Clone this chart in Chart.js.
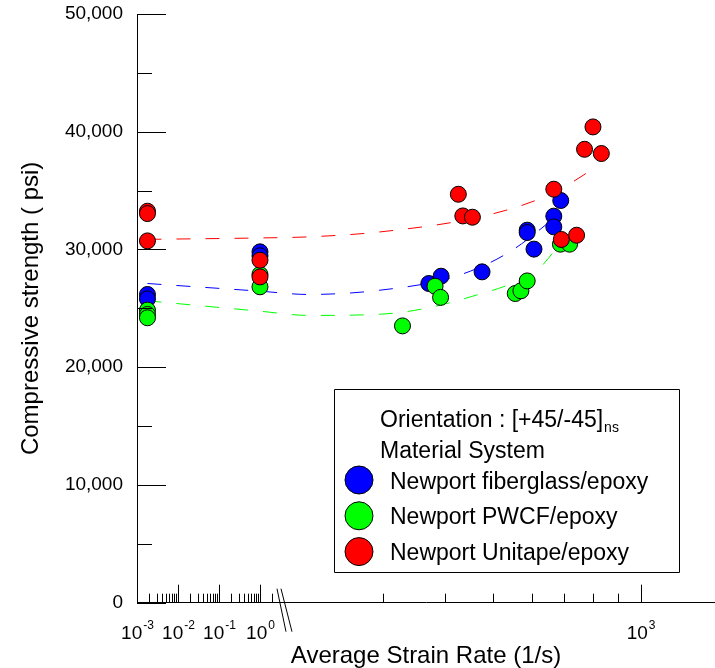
<!DOCTYPE html>
<html>
<head>
<meta charset="utf-8">
<script src="https://cdn.jsdelivr.net/npm/chart.js@4.4.1/dist/chart.umd.min.js"></script>
<style>
  html, body { margin: 0; padding: 0; background: #fff; }
  canvas { display: block; }
</style>
</head>
<body>
<canvas id="strainChart" width="715" height="668"></canvas>
<script>
// ---- data (strain rate in 1/s, strength in psi) ----
const seriesNames = ['Newport fiberglass/epoxy', 'Newport PWCF/epoxy', 'Newport Unitape/epoxy'];

const fiberRate = [0.0018, 0.0018, 1, 1, 371, 393, 476, 588, 588, 607, 666, 666, 688];
const fiberPsi  = [26180, 25800, 29800, 29460, 27110, 27730, 28100, 31640, 31440, 30030, 32830, 31920, 34160];

const pwcfRate = [0.0018, 0.0018, 0.0018, 1, 1, 328, 382, 392, 556, 571, 588, 687, 717];
const pwcfPsi  = [24850, 24480, 24200, 27880, 26830, 23510, 26880, 25930, 26260, 26490, 27330, 30450, 30450];

const uniRate = [0.0018, 0.0018, 0.0018, 1, 1, 426, 435, 455, 666, 690, 741, 769, 800, 832];
const uniPsi  = [33250, 33050, 30730, 29090, 27670, 34690, 32850, 32740, 35120, 30850, 31210, 38510, 40410, 38150];

// dashed trend curves
const fiberFitRate = [0.0018, 1, 211, 295, 417, 535, 646, 668];
const fiberFitPsi  = [27110, 26460, 26180, 26540, 27670, 29660, 32200, 32740];
const pwcfFitRate  = [0.0018, 1, 211, 295, 451, 626, 666, 703];
const pwcfFitPsi   = [25640, 24760, 24400, 24500, 25980, 28520, 29800, 30620];
const uniFitRate   = [0.0018, 1, 211, 295, 472, 626, 709, 797];
const uniFitPsi    = [30860, 30980, 31070, 31490, 32770, 34330, 35460, 36790];

const yTicks = [0, 10000, 20000, 30000, 40000, 50000];
const yMinorTicks = [5000, 15000, 25000, 35000, 45000];
const xMajorTicks = [0.001, 0.01, 0.1, 1, 1000];
const xTickExponents = ['-3', '-2', '-1', '0', '3'];
const xMinorTicks = [
  0.002, 0.003, 0.004, 0.005, 0.006, 0.007, 0.008, 0.009,
  0.02, 0.03, 0.04, 0.05, 0.06, 0.07, 0.08, 0.09,
  0.2, 0.3, 0.4, 0.5, 0.6, 0.7, 0.8, 0.9,
  2, 300, 400, 500, 600, 700, 800, 900
];

// broken log axis: 1 unit per decade up to ~4 1/s, then 12 units per decade from ~190 1/s
const LEFT_END_LOG = 0.61;
const RIGHT_START_LOG = 2.277;
const BREAK_T = LEFT_END_LOG + 3;
function toAxis(rate) {
  const l = Math.log10(rate);
  if (l <= LEFT_END_LOG) return l + 3;
  return BREAK_T + 12 * (l - RIGHT_START_LOG);
}

const FONT = '"Liberation Sans", Arial, Helvetica, sans-serif';
const COLORS = ['#0000ff', '#00ff00', '#ff0000'];

function pts(rates, vals) {
  return rates.map((r, i) => ({ x: toAxis(r), y: vals[i] }));
}

function scatterSet(i, rates, vals, order) {
  return {
    type: 'scatter',
    label: seriesNames[i],
    data: pts(rates, vals),
    backgroundColor: COLORS[i],
    borderColor: '#000',
    borderWidth: 1,
    pointRadius: 8,
    pointHoverRadius: 8,
    order: order,
  };
}

function fitSet(i, rates, vals) {
  return {
    type: 'line',
    label: seriesNames[i] + ' fit',
    data: pts(rates, vals),
    borderColor: COLORS[i],
    borderWidth: 1,
    borderDash: [14, 15],
    pointRadius: 0,
    fill: false,
    cubicInterpolationMode: 'monotone',
    order: 5,
  };
}

const decor = {
  id: 'decor',
  afterDraw(chart) {
    const ctx = chart.ctx;
    const xs = chart.scales.x, ys = chart.scales.y;
    const y0 = ys.getPixelForValue(0);
    const xl = xs.left;
    ctx.save();
    ctx.strokeStyle = '#000';
    ctx.lineWidth = 1;
    ctx.beginPath();
    // inward y ticks
    yTicks.forEach(v => {
      const p = Math.round(ys.getPixelForValue(v)) + 0.5;
      ctx.moveTo(xl, p); ctx.lineTo(xl + 29, p);
    });
    yMinorTicks.forEach(v => {
      const p = Math.round(ys.getPixelForValue(v)) + 0.5;
      ctx.moveTo(xl, p); ctx.lineTo(xl + 15, p);
    });
    // inward x ticks
    xMajorTicks.forEach(v => {
      const p = Math.round(xs.getPixelForValue(toAxis(v))) + 0.5;
      ctx.moveTo(p, y0); ctx.lineTo(p, y0 - 18);
    });
    xMinorTicks.forEach(v => {
      const p = Math.round(xs.getPixelForValue(toAxis(v))) + 0.5;
      ctx.moveTo(p, y0); ctx.lineTo(p, y0 - 9);
    });
    ctx.stroke();

    // axis break
    const bx = xs.getPixelForValue(BREAK_T);
    ctx.beginPath();
    ctx.moveTo(bx - 8, y0 - 14); ctx.lineTo(bx + 1, y0 + 29);
    ctx.moveTo(bx - 4, y0 - 14); ctx.lineTo(bx + 7, y0 + 29);
    ctx.stroke();

    // x tick labels with superscript exponents
    ctx.fillStyle = '#000';
    ctx.textBaseline = 'alphabetic';
    xMajorTicks.forEach((v, i) => {
      const p = xs.getPixelForValue(toAxis(v));
      ctx.font = '19px ' + FONT;
      const wb = ctx.measureText('10').width;
      ctx.font = '12px ' + FONT;
      const we = ctx.measureText(xTickExponents[i]).width;
      const start = p - (wb + we) / 2;
      ctx.font = '19px ' + FONT;
      ctx.textAlign = 'left';
      ctx.fillText('10', start, y0 + 36);
      ctx.font = '12px ' + FONT;
      ctx.fillText(xTickExponents[i], start + wb + 1, y0 + 26);
    });

    // legend box
    const bL = 334.5, bT = 389.5, bW = 345, bH = 183;
    ctx.beginPath();
    ctx.rect(bL, bT, bW, bH);
    ctx.fillStyle = '#fff';
    ctx.fill();
    ctx.strokeStyle = '#000';
    ctx.stroke();
    ctx.fillStyle = '#000';
    ctx.font = '23px ' + FONT;
    ctx.textAlign = 'left';
    const head = 'Orientation : [+45/-45]';
    ctx.fillText(head, 380, 427);
    const hw = ctx.measureText(head).width;
    ctx.font = '14px ' + FONT;
    ctx.fillText('ns', 380 + hw + 1, 432);
    ctx.font = '23px ' + FONT;
    ctx.fillText('Material System', 380, 458);
    seriesNames.forEach((name, i) => {
      const cy = 480 + i * 35.8;
      ctx.beginPath();
      ctx.arc(359, cy, 14, 0, Math.PI * 2);
      ctx.fillStyle = COLORS[i];
      ctx.fill();
      ctx.strokeStyle = '#000';
      ctx.stroke();
      ctx.fillStyle = '#000';
      ctx.fillText(name, 390, cy + 8.5);
    });
    ctx.restore();
  }
};

new Chart(document.getElementById('strainChart'), {
  data: {
    datasets: [
      scatterSet(0, fiberRate, fiberPsi, 2),
      scatterSet(1, pwcfRate, pwcfPsi, 1),
      scatterSet(2, uniRate, uniPsi, 0),
      fitSet(0, fiberFitRate, fiberFitPsi),
      fitSet(1, pwcfFitRate, pwcfFitPsi),
      fitSet(2, uniFitRate, uniFitPsi),
    ],
  },
  options: {
    responsive: false,
    animation: false,
    devicePixelRatio: 1,
    layout: { autoPadding: false, padding: { top: 14, right: 0, bottom: 0, left: 0 } },
    plugins: { legend: { display: false }, tooltip: { enabled: false } },
    scales: {
      x: {
        type: 'linear',
        min: 0,
        max: 14.1,
        grid: { display: false },
        border: { display: true, color: '#000', width: 1 },
        ticks: { display: false },
        title: {
          display: true,
          text: 'Average Strain Rate (1/s)',
          color: '#000',
          font: { family: FONT, size: 24, lineHeight: 1 },
          padding: { top: 0, bottom: 0 },
        },
        afterFit: (scale) => {
          scale.height = 65.3;
          scale.paddingLeft = 0;
          scale.paddingRight = 0;
        },
      },
      y: {
        type: 'linear',
        min: 0,
        max: 50000,
        grid: { display: false },
        border: { display: true, color: '#000', width: 1 },
        afterBuildTicks: (scale) => { scale.ticks = yTicks.map(v => ({ value: v })); },
        ticks: {
          padding: 6,
          color: '#000',
          font: { family: FONT, size: 19 },
          callback: (v) => v.toLocaleString('en-US'),
        },
        title: {
          display: true,
          text: 'Compressive strength ( psi)',
          color: '#000',
          font: { family: FONT, size: 24 },
          padding: { top: 17, bottom: 0 },
        },
        afterFit: (scale) => {
          scale.width = 137;
          scale.paddingTop = 0;
          scale.paddingBottom = 0;
        },
      },
    },
  },
  plugins: [decor],
});
</script>
</body>
</html>
